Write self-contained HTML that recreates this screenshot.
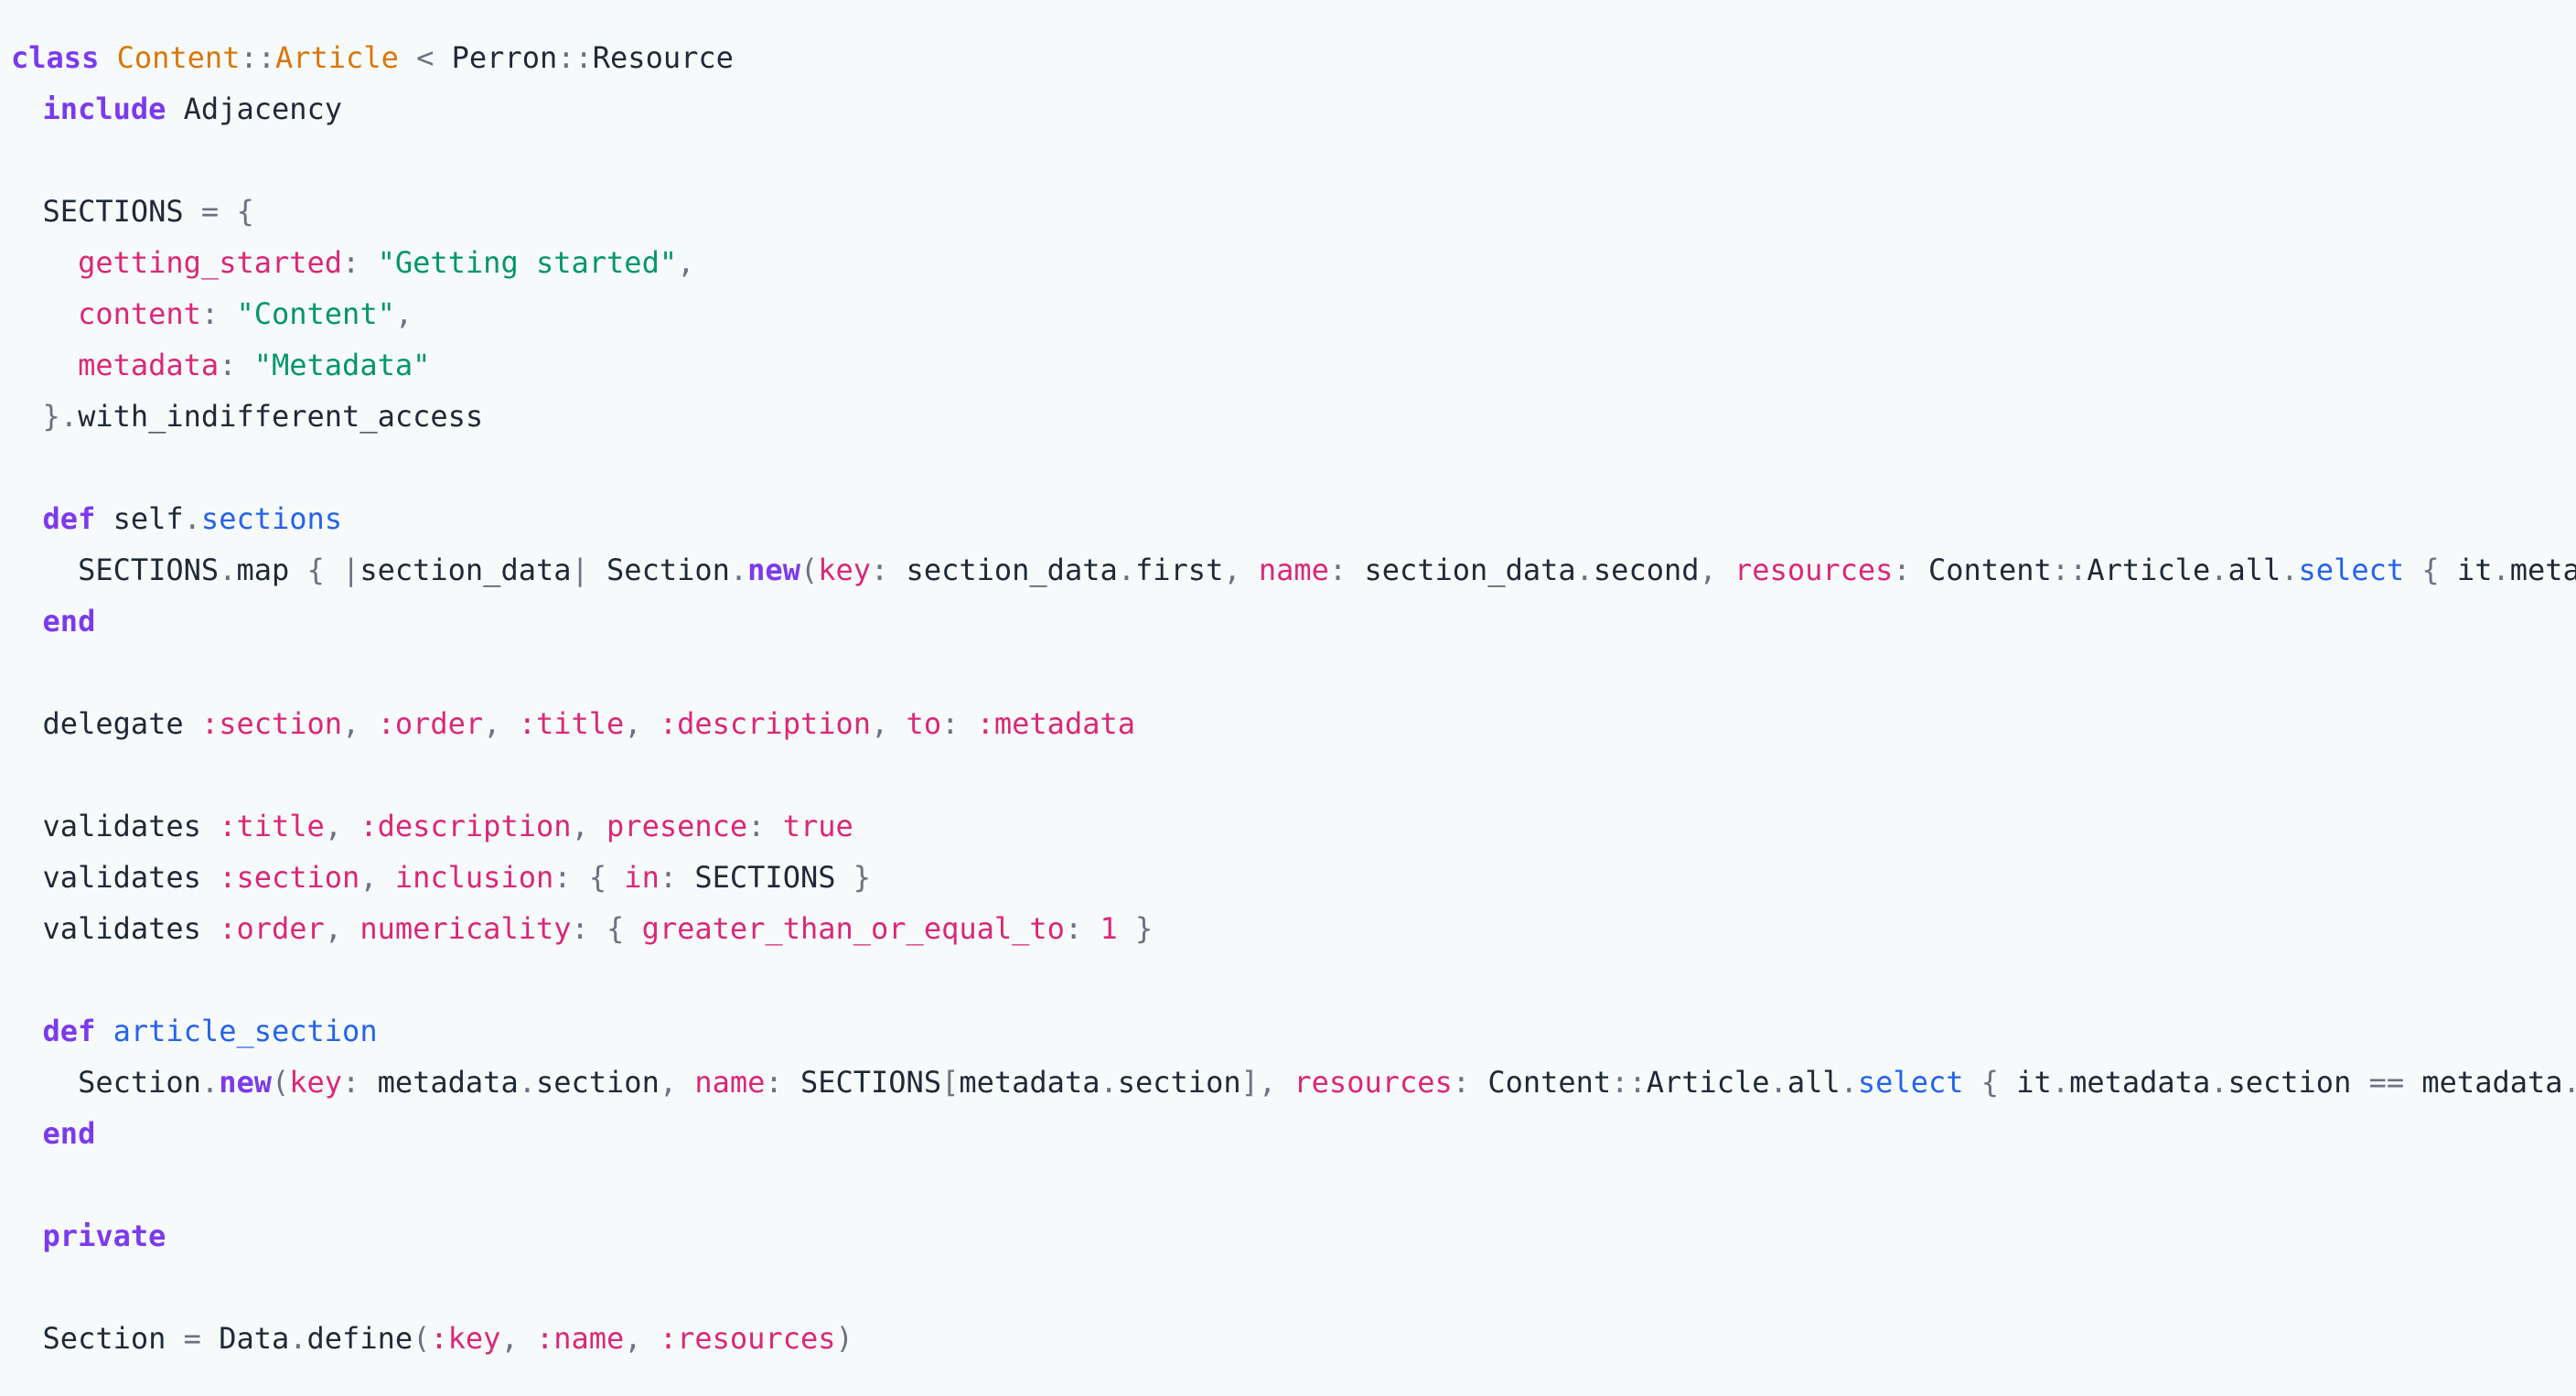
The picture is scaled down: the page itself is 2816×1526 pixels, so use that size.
<!DOCTYPE html>
<html><head><meta charset="utf-8">
<style>
html,body{margin:0;padding:0;}
body{width:2816px;height:1526px;background:#f6fafb;overflow:hidden;}
pre{margin:0;padding:35px 0 0 8px;width:2808px;overflow:hidden;font-family:"DejaVu Sans Mono","Liberation Mono",monospace;font-size:32px;line-height:56px;color:#1f2937;white-space:pre;}
.first{position:relative;left:4px;}
.k{color:#7c3aed;font-weight:bold}
.c{color:#d97706}
.p{color:#6b7280}
.s{color:#db2777}
.g{color:#059669}
.b{color:#2563eb}
</style></head><body>
<pre><span class="first"><span class="k">class</span> <span class="c">Content</span><span class="p">::</span><span class="c">Article</span> <span class="p">&lt;</span> Perron<span class="p">::</span>Resource</span>
  <span class="k">include</span> Adjacency

  SECTIONS <span class="p">=</span> <span class="p">{</span>
    <span class="s">getting_started</span><span class="p">:</span> <span class="g">"Getting started"</span><span class="p">,</span>
    <span class="s">content</span><span class="p">:</span> <span class="g">"Content"</span><span class="p">,</span>
    <span class="s">metadata</span><span class="p">:</span> <span class="g">"Metadata"</span>
  <span class="p">}.</span>with_indifferent_access

  <span class="k">def</span> self<span class="p">.</span><span class="b">sections</span>
    SECTIONS<span class="p">.</span>map <span class="p">{</span> <span class="p">|</span>section_data<span class="p">|</span> Section<span class="p">.</span><span class="k">new</span><span class="p">(</span><span class="s">key</span><span class="p">:</span> section_data<span class="p">.</span>first<span class="p">,</span> <span class="s">name</span><span class="p">:</span> section_data<span class="p">.</span>second<span class="p">,</span> <span class="s">resources</span><span class="p">:</span> Content<span class="p">::</span>Article<span class="p">.</span>all<span class="p">.</span><span class="b">select</span> <span class="p">{</span> it<span class="p">.</span>metadata<span class="p">.</span>section <span class="p">==</span> section_data<span class="p">.</span>first <span class="p">})</span> <span class="p">}</span>
  <span class="k">end</span>

  delegate <span class="s">:section</span><span class="p">,</span> <span class="s">:order</span><span class="p">,</span> <span class="s">:title</span><span class="p">,</span> <span class="s">:description</span><span class="p">,</span> <span class="s">to</span><span class="p">:</span> <span class="s">:metadata</span>

  validates <span class="s">:title</span><span class="p">,</span> <span class="s">:description</span><span class="p">,</span> <span class="s">presence</span><span class="p">:</span> <span class="s">true</span>
  validates <span class="s">:section</span><span class="p">,</span> <span class="s">inclusion</span><span class="p">:</span> <span class="p">{</span> <span class="s">in</span><span class="p">:</span> SECTIONS <span class="p">}</span>
  validates <span class="s">:order</span><span class="p">,</span> <span class="s">numericality</span><span class="p">:</span> <span class="p">{</span> <span class="s">greater_than_or_equal_to</span><span class="p">:</span> <span class="s">1</span> <span class="p">}</span>

  <span class="k">def</span> <span class="b">article_section</span>
    Section<span class="p">.</span><span class="k">new</span><span class="p">(</span><span class="s">key</span><span class="p">:</span> metadata<span class="p">.</span>section<span class="p">,</span> <span class="s">name</span><span class="p">:</span> SECTIONS<span class="p">[</span>metadata<span class="p">.</span>section<span class="p">],</span> <span class="s">resources</span><span class="p">:</span> Content<span class="p">::</span>Article<span class="p">.</span>all<span class="p">.</span><span class="b">select</span> <span class="p">{</span> it<span class="p">.</span>metadata<span class="p">.</span>section <span class="p">==</span> metadata<span class="p">.</span>section <span class="p">})</span>
  <span class="k">end</span>

  <span class="k">private</span>

  Section <span class="p">=</span> Data<span class="p">.</span>define<span class="p">(</span><span class="s">:key</span><span class="p">,</span> <span class="s">:name</span><span class="p">,</span> <span class="s">:resources</span><span class="p">)</span>
</pre>
</body></html>
